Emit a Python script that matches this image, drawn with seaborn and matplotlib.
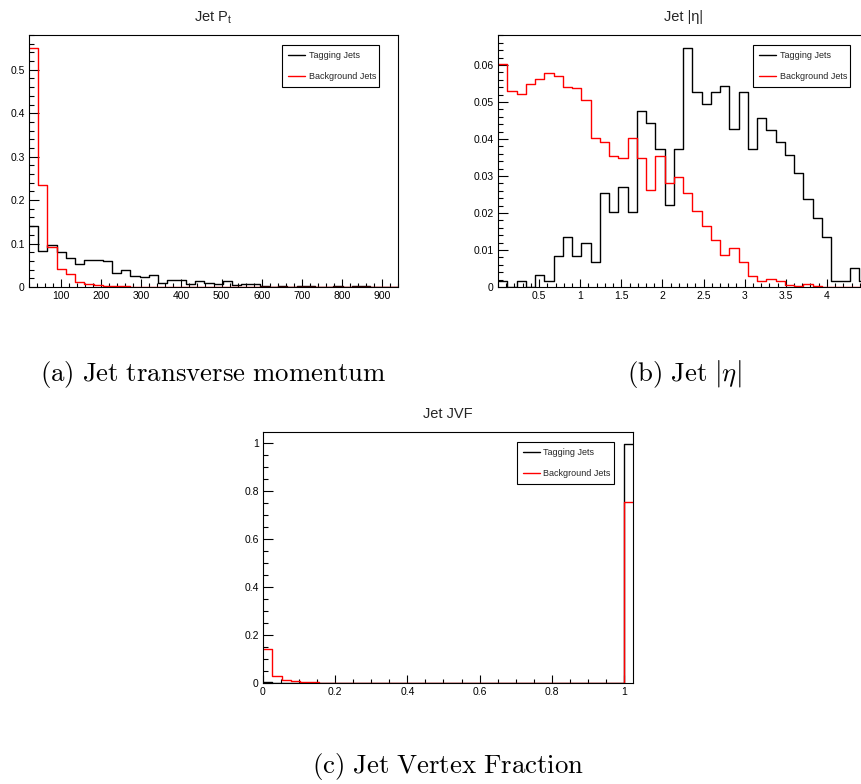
import numpy as np
import pandas as pd
import seaborn as sns
import matplotlib.pyplot as plt
from matplotlib.ticker import MultipleLocator, FixedLocator, FormatStrFormatter

# ---- data (normalised bin contents) ----
pt_range = (20, 940)
pt_tag = [0.141, 0.084, 0.097, 0.080, 0.067, 0.054, 0.061, 0.063, 0.059, 0.032,
          0.040, 0.026, 0.022, 0.027, 0.010, 0.015, 0.015, 0.008, 0.014, 0.009,
          0.006, 0.013, 0.004, 0.008, 0.008, 0.002, 0.001, 0.002, 0.001, 0.003,
          0.002, 0.001, 0.001, 0.002, 0.001, 0.003, 0.002, 0.001, 0.001, 0.001]
pt_bkg = [0.550, 0.234, 0.092, 0.042, 0.029, 0.012, 0.006, 0.004, 0.003, 0.002,
          0.002, 0.001, 0.001, 0.001, 0.001, 0.001, 0.0005, 0.0005, 0.0005, 0.0005,
          0.0003, 0.0003, 0.0003, 0.0002, 0.0002, 0.0002, 0.0001, 0.0001, 0.0001, 0.0001,
          0.0, 0.0, 0.0, 0.0, 0.0, 0.0, 0.0, 0.0, 0.0, 0.0]

eta_range = (0, 4.5)
eta_tag = [0.0015, 0.0, 0.0015, 0.0, 0.0033, 0.0015, 0.0084, 0.0135, 0.0084, 0.0119,
           0.0068, 0.0254, 0.0203, 0.0271, 0.0203, 0.0476, 0.0442, 0.0374, 0.0221, 0.0374,
           0.0647, 0.0528, 0.0494, 0.0528, 0.0544, 0.0426, 0.0528, 0.0374, 0.0458, 0.0424,
           0.0391, 0.0356, 0.0307, 0.0237, 0.0187, 0.0135, 0.0016, 0.0016, 0.0050, 0.0016]
eta_bkg = [0.0603, 0.0530, 0.0521, 0.0549, 0.0562, 0.0577, 0.0571, 0.0541, 0.0539, 0.0505,
           0.0402, 0.0392, 0.0354, 0.0349, 0.0402, 0.0349, 0.0262, 0.0355, 0.0280, 0.0296,
           0.0255, 0.0205, 0.0165, 0.0126, 0.0086, 0.0106, 0.0068, 0.0029, 0.0016, 0.0021,
           0.0016, 0.0005, 0.0003, 0.0007, 0.0003, 0.0001, 0.0001, 0.0, 0.0, 0.0]

jvf_range = (0, 1.025)
jvf_tag = [0.003, 0.001, 0.001, 0.0005, 0.0005, 0.0, 0.0, 0.0, 0.0, 0.0,
           0.0, 0.0, 0.0, 0.0, 0.0, 0.0, 0.0, 0.0, 0.0, 0.0,
           0.0, 0.0, 0.0, 0.0, 0.0, 0.0, 0.0, 0.0, 0.0, 0.0,
           0.0, 0.0, 0.0, 0.0, 0.0, 0.0, 0.0, 0.0, 0.0, 0.995]
jvf_bkg = [0.143, 0.028, 0.011, 0.007, 0.004, 0.003, 0.002, 0.002, 0.002, 0.001,
           0.001, 0.001, 0.001, 0.001, 0.001, 0.001, 0.001, 0.001, 0.001, 0.001,
           0.001, 0.001, 0.001, 0.001, 0.001, 0.001, 0.001, 0.001, 0.001, 0.001,
           0.001, 0.001, 0.001, 0.001, 0.001, 0.001, 0.001, 0.001, 0.001, 0.755]

labels = ["Tagging Jets", "Background Jets"]

sns.set_style("white")
plt.rcParams['font.family'] = ['Liberation Sans', 'DejaVu Sans']
plt.rcParams['mathtext.fontset'] = 'cm'

fig = plt.figure(figsize=(8.61, 7.84), dpi=100)
W, H = 861, 784


def px_axes(l, t, r, b):
    return fig.add_axes([l / W, 1 - b / H, (r - l) / W, (b - t) / H])


def draw_hist(ax, rng, tag, bkg, box):
    edges = list(np.linspace(rng[0], rng[1], len(tag) + 1))
    centers = [0.5 * (a + b) for a, b in zip(edges[:-1], edges[1:])]
    df = pd.DataFrame({"x": centers, "tag": tag, "bkg": bkg})
    sns.histplot(data=df, x="x", weights="tag", bins=edges, element="step", fill=False,
                 color="black", lw=1.0, ax=ax)
    sns.histplot(data=df, x="x", weights="bkg", bins=edges, element="step", fill=False,
                 color="red", lw=1.0, ax=ax)
    ax.set_xlim(rng)
    ax.set(xlabel="", ylabel="")
    for s in ax.spines.values():
        s.set_color("black")
        s.set_linewidth(0.8)
        s.set_visible(True)
    ax.tick_params(which="both", direction="in", top=False, right=False,
                   bottom=True, left=True, labelsize=7.5, colors="black", width=0.8)
    ax.tick_params(axis="y", which="major", length=7, pad=3)
    ax.tick_params(axis="y", which="minor", length=3.5)
    ax.tick_params(axis="x", which="major", length=5.5, pad=3)
    ax.tick_params(axis="x", which="minor", length=2.8)
    ax.yaxis.set_major_formatter(FormatStrFormatter("%g"))
    ax.xaxis.set_major_formatter(FormatStrFormatter("%g"))
    lines = ax.get_lines()
    leg = ax.legend(lines[:2], labels, loc="upper left",
                    bbox_to_anchor=box, mode="expand",
                    fontsize=6.5, handlelength=1.9, handletextpad=0.4,
                    borderpad=0.65, labelspacing=1.35, fancybox=False,
                    framealpha=1, edgecolor="black", borderaxespad=0)
    leg.get_frame().set_linewidth(0.8)


# (a) jet pt
ax_a = px_axes(29, 35, 398, 287)
draw_hist(ax_a, pt_range, pt_tag, pt_bkg, (0.686, 0, 0.263, 0.960))
ax_a.set_ylim(0, 0.58)
ax_a.xaxis.set_major_locator(FixedLocator([100, 200, 300, 400, 500, 600, 700, 800, 900]))
ax_a.xaxis.set_minor_locator(FixedLocator(np.arange(20, 941, 20)))
ax_a.yaxis.set_major_locator(MultipleLocator(0.1))
ax_a.yaxis.set_minor_locator(MultipleLocator(0.02))
ax_a.set_title(r"Jet P$_\mathregular{t}$", fontsize=10.5, pad=10)

# (b) jet |eta|  (right side runs off the page as in the original)
ax_b = px_axes(498, 35, 868, 287)
draw_hist(ax_b, eta_range, eta_tag, eta_bkg, (0.689, 0, 0.262, 0.960))
ax_b.set_ylim(0, 0.0681)
ax_b.xaxis.set_major_locator(FixedLocator([0.5, 1, 1.5, 2, 2.5, 3, 3.5, 4]))
ax_b.xaxis.set_minor_locator(MultipleLocator(0.1))
ax_b.yaxis.set_major_locator(MultipleLocator(0.01))
ax_b.yaxis.set_minor_locator(MultipleLocator(0.002))
ax_b.set_title("Jet |\u03b7|", fontsize=10.5, pad=10)

# (c) jet vertex fraction
ax_c = px_axes(263, 432, 633, 683)
draw_hist(ax_c, jvf_range, jvf_tag, jvf_bkg, (0.686, 0, 0.262, 0.960))
ax_c.set_ylim(0, 1.046)
ax_c.xaxis.set_major_locator(MultipleLocator(0.2))
ax_c.xaxis.set_minor_locator(MultipleLocator(0.05))
ax_c.yaxis.set_major_locator(MultipleLocator(0.2))
ax_c.yaxis.set_minor_locator(MultipleLocator(0.05))
ax_c.set_title("Jet JVF", fontsize=10.5, pad=10)

# sub-captions
cap = dict(fontsize=19.3, ha="center", va="center", color="black")
fig.text(213 / W, 1 - 374 / H, r"$\mathrm{(a)\ Jet\ transverse\ momentum}$", **cap)
fig.text(684 / W, 1 - 374 / H, r"$\mathrm{(b)\ Jet\ }|\eta|$", **cap)
fig.text(448 / W, 1 - 767 / H, r"$\mathrm{(c)\ Jet\ Vertex\ Fraction}$", **cap)

fig.savefig("out.png", dpi=100)
